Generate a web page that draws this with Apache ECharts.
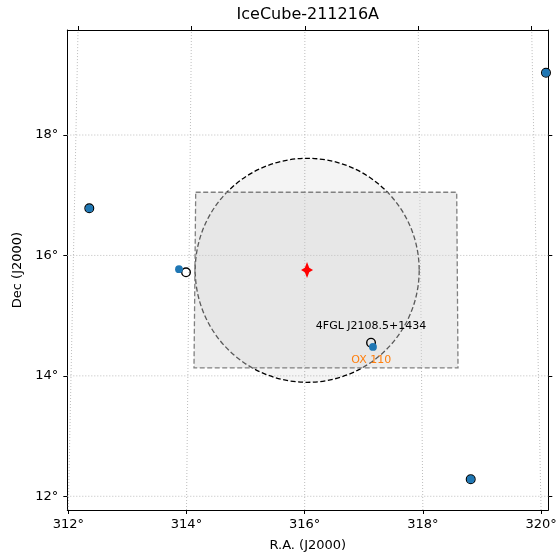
<!DOCTYPE html>
<html>
<head>
<meta charset="utf-8">
<script src="https://cdn.jsdelivr.net/npm/echarts@6/dist/echarts.min.js"></script>
<style>
html, body { margin: 0; padding: 0; background: #fff; }
#chart { width: 559px; height: 556px; }
</style>
</head>
<body>
<div id="chart"></div>
<script>
// ---- Data ----
const raTicks = [312, 314, 316, 318, 320];
const decTicks = [12, 14, 16, 18];
const raRange = [311.983, 320.123];      // bottom R.A. axis extent
const raRangeTop = [311.811, 320.293];   // top R.A. axis extent (projection)
const decRange = [11.772, 19.744];

// 4FGL sources (open black circles)
const fermiRA = [312.355, 313.992, 317.123, 318.810, 320.084];
const fermiDec = [16.783, 15.720, 14.551, 12.283, 19.035];
const fermiNames = ['', '', '4FGL J2108.5+1434', '', ''];

// Counterpart candidates (blue dots)
const blueRA = [312.355, 313.873, 317.156, 318.810, 320.084];
const blueDec = [16.783, 15.771, 14.480, 12.283, 19.035];
const blueNames = ['', '', 'OX 110', '', ''];

// Neutrino best-fit position and error circle
const nuRA = [316.040];
const nuDec = [15.758];
const circleCenter = [316.043, 15.753];
const circleRadius = [1.86];

// Error box corners (R.A., Dec)
const boxRA = [314.156, 318.573, 318.595, 314.127];
const boxDec = [17.049, 17.049, 14.131, 14.131];

const FONT = 'DejaVu Sans';
const chart = echarts.init(document.getElementById('chart'), null, { renderer: 'canvas' });

const gridStyle = { stroke: '#bdbdbd', lineWidth: 1, lineDash: [1, 2] };

const option = {
  animation: false,
  backgroundColor: '#ffffff',
  textStyle: { fontFamily: FONT },
  title: {
    text: 'IceCube-211216A',
    left: 307.8, top: 7, textAlign: 'center', padding: 0,
    textStyle: { fontFamily: FONT, fontSize: 16, fontWeight: 'normal', color: '#000' }
  },
  grid: { left: 67.3, right: 10.7, top: 30, bottom: 46, containLabel: false, outerBoundsMode: 'none' },
  xAxis: [
    {
      type: 'value', position: 'bottom', min: raRange[0], max: raRange[1],
      name: 'R.A. (J2000)', nameLocation: 'middle', nameGap: 29,
      nameTextStyle: { fontFamily: FONT, fontSize: 13, color: '#000' },
      axisLine: { show: true, onZero: false, lineStyle: { color: '#000', width: 1 } },
      axisTick: { show: true, length: 4, customValues: raTicks, lineStyle: { color: '#000', width: 1 } },
      axisLabel: { show: true, customValues: raTicks, margin: 8, formatter: v => v + '°',
        fontFamily: FONT, fontSize: 13, color: '#000' },
      splitLine: { show: false }
    },
    {
      type: 'value', position: 'top', min: raRangeTop[0], max: raRangeTop[1],
      axisLine: { show: true, onZero: false, lineStyle: { color: '#000', width: 1 } },
      axisTick: { show: true, length: 4, customValues: raTicks, lineStyle: { color: '#000', width: 1 } },
      axisLabel: { show: false },
      splitLine: { show: false }
    }
  ],
  yAxis: [
    {
      type: 'value', position: 'left', min: decRange[0], max: decRange[1],
      name: 'Dec (J2000)', nameLocation: 'middle', nameGap: 35, nameRotate: 90,
      nameTextStyle: { fontFamily: FONT, fontSize: 13, color: '#000' },
      axisLine: { show: true, onZero: false, lineStyle: { color: '#000', width: 1 } },
      axisTick: { show: true, length: 4, customValues: decTicks, lineStyle: { color: '#000', width: 1 } },
      axisLabel: { show: true, customValues: decTicks, margin: 9, formatter: v => v + '°',
        fontFamily: FONT, fontSize: 13, color: '#000' },
      splitLine: { show: false }
    },
    {
      type: 'value', position: 'right', min: decRange[0], max: decRange[1],
      axisLine: { show: true, onZero: false, lineStyle: { color: '#000', width: 1 } },
      axisTick: { show: true, length: 4, customValues: decTicks, lineStyle: { color: '#000', width: 1 } },
      axisLabel: { show: false },
      splitLine: { show: false }
    }
  ],
  series: [
    // vertical (R.A.) grid lines, tilted between bottom and top axis ticks
    {
      type: 'custom', xAxisIndex: 0, yAxisIndex: 0, z: 1, silent: true,
      data: raTicks.map(v => [v]),
      renderItem: function (params, api) {
        const ra = api.value(0);
        const b = api.coord([ra, decRange[0]]);
        const t = api.coord([ra, decRange[1]]);
        let tx = b[0];
        try {
          const p = chart.convertToPixel({ xAxisIndex: 1 }, ra);
          if (typeof p === 'number' && isFinite(p)) tx = p;
        } catch (e) {}
        return { type: 'line', shape: { x1: b[0], y1: b[1], x2: tx, y2: t[1] }, style: gridStyle };
      }
    },
    // horizontal (Dec) grid lines
    {
      type: 'custom', xAxisIndex: 0, yAxisIndex: 0, z: 1, silent: true,
      data: decTicks.map(v => [raRange[0], v]),
      renderItem: function (params, api) {
        const l = api.coord([raRange[0], api.value(1)]);
        const r = api.coord([raRange[1], api.value(1)]);
        return { type: 'line', shape: { x1: l[0], y1: l[1], x2: r[0], y2: r[1] }, style: gridStyle };
      }
    },
    // error circle
    {
      type: 'custom', xAxisIndex: 0, yAxisIndex: 0, z: 2, silent: true,
      data: [[circleCenter[0], circleCenter[1], circleRadius[0]]],
      renderItem: function (params, api) {
        const c = api.coord([api.value(0), api.value(1)]);
        const r = api.size([0, api.value(2)])[1];
        return { type: 'circle', shape: { cx: c[0], cy: c[1], r: r },
          style: { fill: 'rgba(0,0,0,0.045)', stroke: '#000', lineWidth: 1.3, lineDash: [5, 2.5] } };
      }
    },
    // error box
    {
      type: 'custom', xAxisIndex: 0, yAxisIndex: 0, z: 3, silent: true,
      data: [[boxRA[0], boxDec[0]]],
      renderItem: function (params, api) {
        const pts = boxRA.map((ra, i) => api.coord([ra, boxDec[i]]));
        return { type: 'polygon', shape: { points: pts },
          style: { fill: 'rgba(211,211,211,0.42)', stroke: '#808080', lineWidth: 1.3, lineDash: [5, 2.5] } };
      }
    },
    // 4FGL open circles
    {
      type: 'scatter', xAxisIndex: 0, yAxisIndex: 0, z: 4,
      symbol: 'circle', symbolSize: 8.6,
      itemStyle: { color: 'rgba(0,0,0,0)', borderColor: '#000', borderWidth: 1.4, opacity: 1 },
      data: fermiRA.map((ra, i) => ({
        value: [ra, fermiDec[i]], name: fermiNames[i],
        label: fermiNames[i] ? { show: true, position: 'inside', offset: [0, -17],
          formatter: '{b}', fontFamily: FONT, fontSize: 11, color: '#000' } : { show: false }
      }))
    },
    // blue dots
    {
      type: 'scatter', xAxisIndex: 0, yAxisIndex: 0, z: 5,
      symbol: 'circle', symbolSize: 7.8,
      itemStyle: { color: '#1f77b4', borderWidth: 0, opacity: 1 },
      data: blueRA.map((ra, i) => ({
        value: [ra, blueDec[i]], name: blueNames[i],
        label: blueNames[i] ? { show: true, position: 'inside', offset: [-1.7, 13],
          formatter: '{b}', fontFamily: FONT, fontSize: 11, color: '#ff7f0e' } : { show: false }
      }))
    },
    // neutrino best fit
    {
      type: 'scatter', xAxisIndex: 0, yAxisIndex: 0, z: 6,
      symbol: 'path://M0,-8 L2.2,-2.2 L6,0 L2.2,2.2 L0,8 L-2.2,2.2 L-6,0 L-2.2,-2.2 Z',
      symbolSize: [12, 16],
      itemStyle: { color: '#ff0000', opacity: 1 },
      data: nuRA.map((ra, i) => [ra, nuDec[i]])
    }
  ]
};

chart.setOption(option);
// re-render so the tilted grid lines can read the top axis scale
chart.setOption(option, { notMerge: true });
</script>
</body>
</html>
